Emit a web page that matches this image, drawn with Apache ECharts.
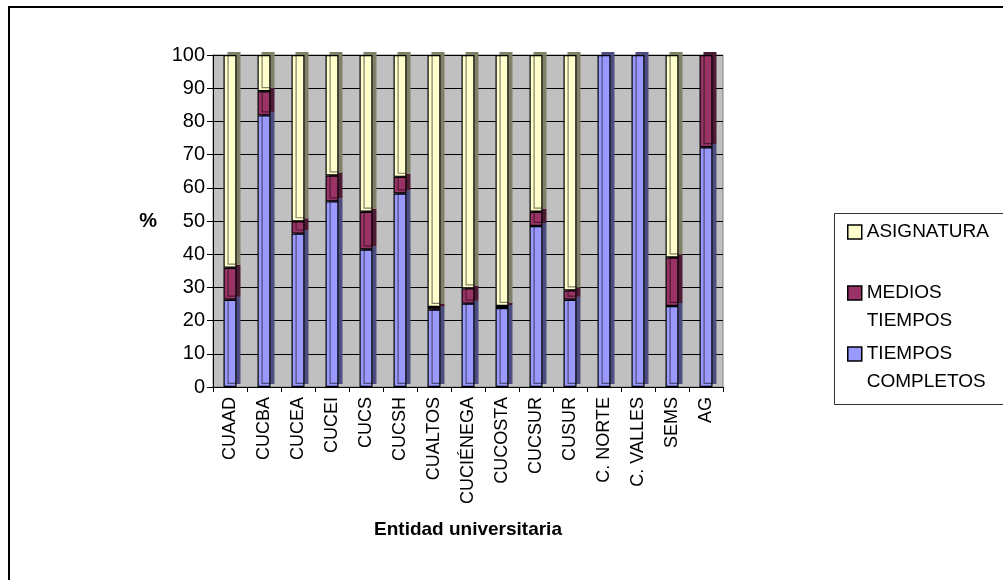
<!DOCTYPE html>
<html><head><meta charset="utf-8">
<script src="https://cdn.jsdelivr.net/npm/echarts@6/dist/echarts.min.js"></script>
<style>html,body{margin:0;padding:0;background:#fff}#c{width:1003px;height:580px}</style>
</head><body><div id="c"></div>
<script>
var categories = ['CUAAD','CUCBA','CUCEA','CUCEI','CUCS','CUCSH','CUALTOS','CUCIÉNEGA','CUCOSTA','CUCSUR','CUSUR','C. NORTE','C. VALLES','SEMS','AG'];
var tiemposCompletos = [26.3, 81.8, 46.2, 55.9, 41.4, 58.3, 23.3, 25.1, 23.8, 48.5, 26.3, 100, 100, 24.4, 72.2];
var mediosTiempos    = [9.6, 7.3, 3.7, 7.8, 11.4, 5.0, 0.8, 4.6, 0.6, 4.3, 2.8, 0, 0, 14.6, 27.8];
var asignatura       = [64.1, 10.9, 50.1, 36.3, 47.2, 36.7, 75.9, 70.3, 75.6, 47.2, 70.9, 0, 0, 61.0, 0];
var yTicks = [0,10,20,30,40,50,60,70,80,90,100];
var seriesNames = ['ASIGNATURA', 'MEDIOS\nTIEMPOS', 'TIEMPOS\nCOMPLETOS'];

var chart = echarts.init(document.getElementById('c'));
function ser(name, data, color, side) {
  return {
    name: name, type: 'bar', stack: 't', barWidth: 13,
    data: data.map(function (v) { return v === 0 ? '-' : v; }),
    itemStyle: { color: color, borderColor: '#000', borderWidth: 1.2,
      shadowColor: side, shadowOffsetX: 4, shadowOffsetY: -3, shadowBlur: 0 },
    emphasis: { disabled: true }
  };
}
function leg(name, top, twoLine) {
  return {
    orient: 'vertical', left: 847, top: top, padding: 0,
    itemWidth: 14, itemHeight: 14, icon: 'rect',
    data: [name],
    formatter: twoLine ? function (n) { return ' \n' + n; } : '{name}',
    textStyle: { fontSize: 19, color: '#000', lineHeight: 28 },
    itemStyle: { borderColor: '#000', borderWidth: 1.5 }
  };
}
chart.setOption({
  animation: false,
  textStyle: { fontFamily: 'Liberation Sans, Arial, sans-serif' },
  grid: { left: 213, top: 55, width: 510, height: 332, show: true,
    backgroundColor: '#C0C0C0', borderColor: '#808080', borderWidth: 1 },
  legend: [ leg(seriesNames[0], 218, false), leg(seriesNames[1], 251, true), leg(seriesNames[2], 312, true) ],
  graphic: [
    { type: 'polyline', shape: { points: [[9, 580], [9, 7], [1003, 7]] }, style: { fill: 'none', stroke: '#000', lineWidth: 2 }, z: -1 },
    { type: 'rect', shape: { x: 834.5, y: 213.5, width: 200, height: 191 }, style: { fill: '#fff', stroke: '#333', lineWidth: 1 }, z: -1 }
  ],
  xAxis: {
    type: 'category', data: categories,
    name: 'Entidad universitaria', nameLocation: 'middle', nameGap: 133,
    nameTextStyle: { fontSize: 19, fontWeight: 'bold', color: '#000' },
    axisLine: { lineStyle: { color: '#000' } },
    axisTick: { show: true, length: 5, lineStyle: { color: '#000' } },
    axisLabel: { rotate: 90, fontSize: 18, color: '#000', margin: 10, interval: 0 },
    splitLine: { show: false }
  },
  yAxis: {
    type: 'value', min: 0, max: 100, interval: 10,
    name: '%', nameLocation: 'middle', nameRotate: 0, nameGap: 56,
    nameTextStyle: { fontSize: 20, fontWeight: 'bold', color: '#000' },
    axisLine: { show: true, lineStyle: { color: '#000' } },
    axisTick: { show: true, length: 6, lineStyle: { color: '#000' } },
    axisLabel: { fontSize: 20, color: '#000', margin: 8,
      formatter: function (v) { return yTicks.indexOf(v) >= 0 ? String(v) : ''; } },
    splitLine: { show: true, lineStyle: { color: '#000', width: 1 } }
  },
  series: [
    ser(seriesNames[2], tiemposCompletos, '#9999FF', '#4C4C80'),
    ser(seriesNames[1], mediosTiempos, '#993366', '#4C1A33'),
    ser(seriesNames[0], asignatura, '#FFFFCC', '#808066')
  ]
});
</script></body></html>
